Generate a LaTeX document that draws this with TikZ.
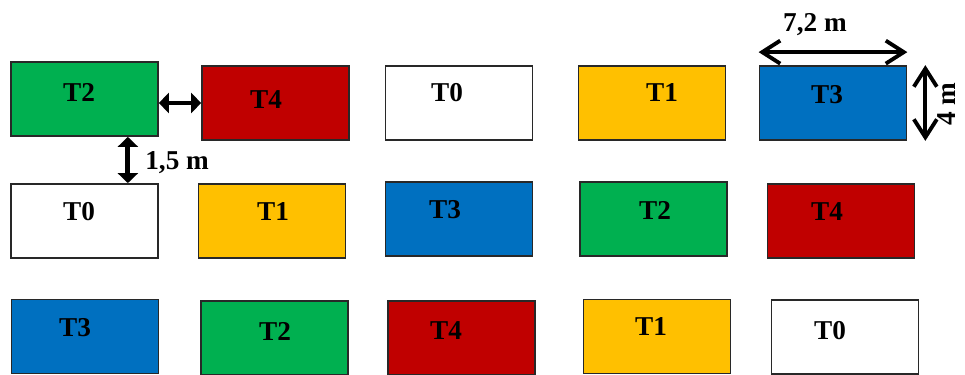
\documentclass[tikz,border=0pt]{standalone}
\usepackage{fontspec}
\setmainfont{Liberation Serif}
\usetikzlibrary{arrows.meta,positioning,calc}
\definecolor{tgreen}{RGB}{0,176,80}
\definecolor{tred}{RGB}{192,0,0}
\definecolor{tyellow}{RGB}{255,192,0}
\definecolor{tblue}{RGB}{0,112,192}
\definecolor{edgecol}{RGB}{40,40,40}

\begin{document}
\begin{tikzpicture}[x=0.02cm,y=-0.02cm,
  tile/.style={draw=edgecol,line width=1pt,minimum width=2.94cm,minimum height=1.48cm,inner sep=0pt},
  lbl/.style={font=\fontsize{15.5}{18}\selectfont\bfseries,inner sep=0pt},
  gapdim/.style={line width=2.8pt,{Triangle[length=0.2cm,width=0.4cm]}-{Triangle[length=0.2cm,width=0.4cm]}},
  sizedim/.style={line width=2.2pt,{Straight Barb[length=0.36cm,width=0.46cm]}-{Straight Barb[length=0.36cm,width=0.46cm]}}]
  \useasboundingbox (0,0) rectangle (965,375);
  % first row
  \node[tile,fill=tgreen]  (b11) at (84.5,99)  {};
  \node[tile,fill=tred]    (b12) at (275.5,103) {};
  \node[tile,fill=white]   (b13) at (459,103)  {};
  \node[tile,fill=tyellow] (b14) at (652,103)  {};
  \node[tile,fill=tblue]   (b15) at (833,103)  {};
  \node[lbl] (t11) at (79,92)  {T2};
  \node[lbl] (t12) at (266,100) {T4};
  \node[lbl] (t13) at (447,93) {T0};
  \node[lbl] (t14) at (662,93) {T1};
  \node[lbl] (t15) at (827,95) {T3};
  % second row
  \node[tile,fill=white]   (b21) at (84.5,221) {};
  \node[tile,fill=tyellow] (b22) at (272,221)  {};
  \node[tile,fill=tblue]   (b23) at (459,219)  {};
  \node[tile,fill=tgreen]  (b24) at (653.5,219) {};
  \node[tile,fill=tred]    (b25) at (841,221)  {};
  \node[lbl] (t21) at (79,212)  {T0};
  \node[lbl] (t22) at (273,212) {T1};
  \node[lbl] (t23) at (445,210) {T3};
  \node[lbl] (t24) at (655,210) {T2};
  \node[lbl] (t25) at (827,212) {T4};
  % third row
  \node[tile,fill=tblue]   (b31) at (85,336.5)  {};
  \node[tile,fill=tgreen]  (b32) at (274.5,338) {};
  \node[tile,fill=tred]    (b33) at (461.5,338) {};
  \node[tile,fill=tyellow] (b34) at (657,336.5) {};
  \node[tile,fill=white]   (b35) at (845,337)   {};
  \node[lbl] (t31) at (75,328)  {T3};
  \node[lbl] (t32) at (275,331) {T2};
  \node[lbl] (t33) at (446,331) {T4};
  \node[lbl] (t34) at (651,327) {T1};
  \node[lbl] (t35) at (830,331) {T0};
  % spacing
  \draw[gapdim] (b11.east |- b12.west) -- (b12.west);
  \draw[gapdim] ([xshift=-0.62cm]b11.south east) -- ([xshift=-0.62cm]b21.north east)
    node[lbl,midway,right=0.3cm,yshift=-0.06cm] (gaplbl) {1,5 m};
  % tile size
  \draw[sizedim] ([yshift=0.26cm]b15.north west) -- ([yshift=0.26cm]b15.north east);
  \node[lbl] (widelbl) at (815,25) {7,2 m};
  \draw[sizedim] ([xshift=0.36cm]b15.north east) -- ([xshift=0.36cm]b15.south east);
  \node[lbl,rotate=90] (highlbl) at (947,104) {4 m};
\end{tikzpicture}
\end{document}
